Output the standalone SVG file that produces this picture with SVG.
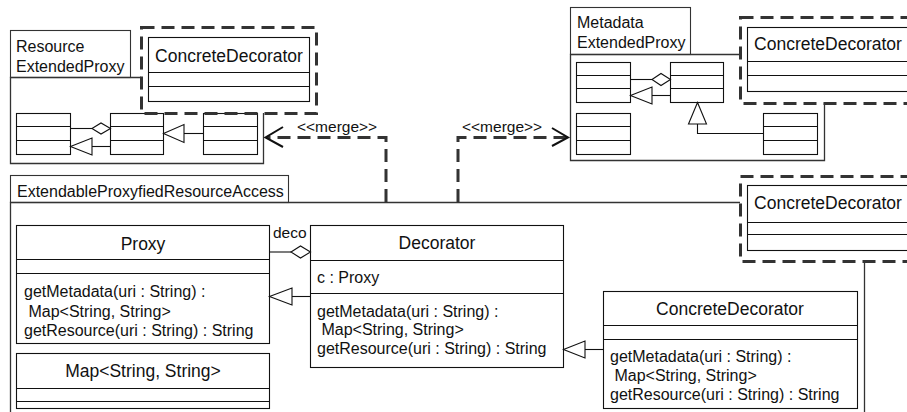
<svg xmlns="http://www.w3.org/2000/svg" width="907" height="412" viewBox="0 0 907 412">
<style>
.bg{fill:#fff}
.box{fill:#fff;stroke:#111;stroke-width:1.1}
.pkg{fill:none;stroke:#333;stroke-width:1.3}
.ln{fill:none;stroke:#111;stroke-width:1.1}
.dash{fill:none;stroke:#333;stroke-width:3;stroke-dasharray:13 7}
.dbox{fill:none;stroke:#333;stroke-width:3;stroke-dasharray:13 7}
.arw{fill:none;stroke:#111;stroke-width:2}
.tri{fill:#fff;stroke:#111;stroke-width:1.1}
text{font-family:"Liberation Sans",Arial,sans-serif;fill:#111}
.nm{font-size:17.5px;text-anchor:middle}
.t{font-size:16px}
.lb{font-size:15.5px}
</style>
<rect class="bg" x="0" y="0" width="907" height="412"/>

<!-- Resource ExtendedProxy package -->
<g id="pkg-resource">
  <rect class="box" x="10.5" y="30.5" width="120" height="47" style="stroke:#333"/>
  <text class="t" x="16" y="52">Resource</text>
  <text class="t" x="16" y="72">ExtendedProxy</text>
  <polyline class="pkg" points="141,77.5 10.5,77.5 10.5,163.5 263.5,163.5 263.5,113"/>
  <g id="r-a"><rect class="box" x="16.5" y="113.5" width="54" height="41"/><line class="ln" x1="16.5" y1="126.5" x2="70.5" y2="126.5"/><line class="ln" x1="16.5" y1="140.5" x2="70.5" y2="140.5"/></g>
  <g id="r-b"><rect class="box" x="110.5" y="113.5" width="53" height="41"/><line class="ln" x1="110.5" y1="126.5" x2="163.5" y2="126.5"/><line class="ln" x1="110.5" y1="140.5" x2="163.5" y2="140.5"/></g>
  <g id="r-c"><rect class="box" x="203.5" y="113.5" width="54" height="41"/><line class="ln" x1="203.5" y1="126.5" x2="257.5" y2="126.5"/><line class="ln" x1="203.5" y1="140.5" x2="257.5" y2="140.5"/></g>
  <line class="ln" x1="70.5" y1="128.5" x2="92" y2="128.5"/>
  <polygon class="tri" points="92,128.5 101,123 110.5,128.5 101,134"/>
  <line class="ln" x1="92" y1="146.5" x2="110.5" y2="146.5"/>
  <polygon class="tri" points="70.5,146.5 92,138 92,155"/>
  <line class="ln" x1="184" y1="133.5" x2="203.5" y2="133.5"/>
  <polygon class="tri" points="163.5,133.5 184,124.5 184,142.5"/>
  <g id="r-cd">
    <rect class="box" x="148.5" y="37.5" width="161" height="64"/>
    <line class="ln" x1="148.5" y1="72.5" x2="309.5" y2="72.5"/>
    <line class="ln" x1="148.5" y1="86.5" x2="309.5" y2="86.5"/>
    <text class="nm" x="229" y="62">ConcreteDecorator</text>
    <rect class="dbox" x="141.5" y="27.5" width="175" height="86"/>
  </g>
</g>

<!-- Metadata ExtendedProxy package -->
<g id="pkg-metadata">
  <rect class="box" x="570.5" y="7.5" width="120" height="47" style="stroke:#333"/>
  <text class="t" x="577" y="28">Metadata</text>
  <text class="t" x="577" y="48">ExtendedProxy</text>
  <polyline class="pkg" points="740,54.5 570.5,54.5 570.5,160.5 824.5,160.5 824.5,103"/>
  <g id="m-a"><rect class="box" x="576.5" y="62.5" width="54" height="40"/><line class="ln" x1="576.5" y1="75.5" x2="630.5" y2="75.5"/><line class="ln" x1="576.5" y1="88.5" x2="630.5" y2="88.5"/></g>
  <g id="m-b"><rect class="box" x="670.5" y="62.5" width="53" height="40"/><line class="ln" x1="670.5" y1="75.5" x2="723.5" y2="75.5"/><line class="ln" x1="670.5" y1="88.5" x2="723.5" y2="88.5"/></g>
  <g id="m-d"><rect class="box" x="576.5" y="113.5" width="54" height="41"/><line class="ln" x1="576.5" y1="126.5" x2="630.5" y2="126.5"/><line class="ln" x1="576.5" y1="140.5" x2="630.5" y2="140.5"/></g>
  <g id="m-c"><rect class="box" x="763.5" y="113.5" width="54" height="41"/><line class="ln" x1="763.5" y1="126.5" x2="817.5" y2="126.5"/><line class="ln" x1="763.5" y1="140.5" x2="817.5" y2="140.5"/></g>
  <line class="ln" x1="630.5" y1="79.5" x2="652" y2="79.5"/>
  <polygon class="tri" points="652,79.5 661,73.5 670.5,79.5 661,85.5"/>
  <line class="ln" x1="652" y1="95.5" x2="670.5" y2="95.5"/>
  <polygon class="tri" points="630.5,95.5 652,87 652,104"/>
  <polyline class="ln" points="763.5,133.5 697.5,133.5 697.5,124"/>
  <polygon class="tri" points="697.5,102.5 688.5,124 706.5,124"/>
  <g id="m-cd">
    <rect class="box" x="747.5" y="27.5" width="161" height="64"/>
    <line class="ln" x1="747.5" y1="61.5" x2="908.5" y2="61.5"/>
    <line class="ln" x1="747.5" y1="75.5" x2="908.5" y2="75.5"/>
    <text class="nm" x="828" y="50">ConcreteDecorator</text>
    <rect class="dbox" x="740.5" y="17.5" width="175" height="86"/>
  </g>
</g>

<!-- ExtendableProxyfiedResourceAccess package -->
<g id="pkg-main">
  <rect class="box" x="10.5" y="175.5" width="278" height="27" style="stroke:#333"/>
  <text class="t" x="17" y="197">ExtendableProxyfiedResourceAccess</text>
  <polyline class="pkg" points="740,202.5 10.5,202.5 10.5,414"/>
  <line class="pkg" x1="864.5" y1="261" x2="864.5" y2="414"/>
</g>

<g id="main-cd-merged">
  <rect class="box" x="747.5" y="185.5" width="161" height="65"/>
  <line class="ln" x1="747.5" y1="222.5" x2="908.5" y2="222.5"/>
  <line class="ln" x1="747.5" y1="234.5" x2="908.5" y2="234.5"/>
  <text class="nm" x="828" y="209">ConcreteDecorator</text>
  <rect class="dbox" x="740.5" y="176.5" width="175" height="85"/>
</g>

<g id="proxy">
  <rect class="box" x="16.5" y="225.5" width="253" height="118"/>
  <line class="ln" x1="16.5" y1="259.5" x2="269.5" y2="259.5"/>
  <line class="ln" x1="16.5" y1="273.5" x2="269.5" y2="273.5"/>
  <text class="nm" x="143" y="250">Proxy</text>
  <text class="t" x="24" y="297">getMetadata(uri : String) :</text>
  <text class="t" x="24" y="317" xml:space="preserve"> Map&lt;String, String&gt;</text>
  <text class="t" x="24" y="336">getResource(uri : String) : String</text>
</g>

<g id="map">
  <rect class="box" x="16.5" y="353.5" width="253" height="55"/>
  <line class="ln" x1="16.5" y1="388.5" x2="269.5" y2="388.5"/>
  <line class="ln" x1="16.5" y1="401.5" x2="269.5" y2="401.5"/>
  <text class="nm" x="143" y="377">Map&lt;String, String&gt;</text>
</g>

<g id="decorator">
  <rect class="box" x="310.5" y="225.5" width="253" height="142"/>
  <line class="ln" x1="310.5" y1="260.5" x2="563.5" y2="260.5"/>
  <line class="ln" x1="310.5" y1="293.5" x2="563.5" y2="293.5"/>
  <text class="nm" x="437" y="249">Decorator</text>
  <text class="t" x="317" y="283">c : Proxy</text>
  <text class="t" x="317" y="317">getMetadata(uri : String) :</text>
  <text class="t" x="317" y="335" xml:space="preserve"> Map&lt;String, String&gt;</text>
  <text class="t" x="317" y="354">getResource(uri : String) : String</text>
</g>

<g id="concrete-decorator">
  <rect class="box" x="603.5" y="291.5" width="254" height="117"/>
  <line class="ln" x1="603.5" y1="325.5" x2="857.5" y2="325.5"/>
  <line class="ln" x1="603.5" y1="339.5" x2="857.5" y2="339.5"/>
  <text class="nm" x="730" y="315">ConcreteDecorator</text>
  <text class="t" x="610" y="362">getMetadata(uri : String) :</text>
  <text class="t" x="610" y="381" xml:space="preserve"> Map&lt;String, String&gt;</text>
  <text class="t" x="610" y="400">getResource(uri : String) : String</text>
</g>

<g id="connectors">
  <!-- deco aggregation -->
  <line class="ln" x1="269.5" y1="252" x2="291" y2="252"/>
  <polygon class="tri" points="291,252 300.5,246 310.5,252 300.5,258"/>
  <text class="lb" x="273" y="238">deco</text>
  <!-- Decorator generalizes Proxy -->
  <line class="ln" x1="292" y1="296.5" x2="310.5" y2="296.5"/>
  <polygon class="tri" points="269.5,296.5 292,288 292,305"/>
  <!-- ConcreteDecorator generalizes Decorator -->
  <line class="ln" x1="585" y1="349.5" x2="603.5" y2="349.5"/>
  <polygon class="tri" points="563.5,349.5 585,341 585,358"/>
  <!-- merge left -->
  <polyline class="dash" points="386,202 386,137.5 266,137.5"/>
  <polyline class="arw" points="283,127 265.5,137.5 283,147"/>
  <text class="lb" x="297" y="132">&lt;&lt;merge&gt;&gt;</text>
  <!-- merge right -->
  <polyline class="dash" points="458,202 458,137.5 567,137.5"/>
  <polyline class="arw" points="552,128 568,137.5 552,146"/>
  <text class="lb" x="462" y="132">&lt;&lt;merge&gt;&gt;</text>
</g>
</svg>
